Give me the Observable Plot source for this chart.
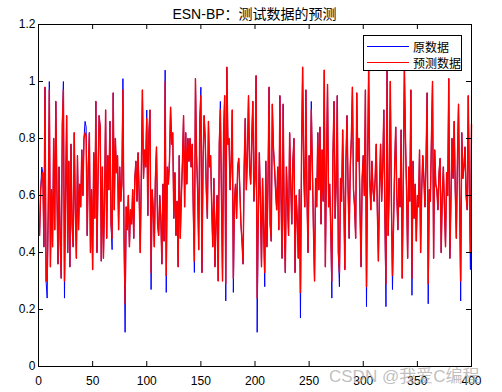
<!DOCTYPE html>
<html><head><meta charset="utf-8">
<script src="https://cdn.jsdelivr.net/npm/d3@7"></script>
<script src="https://cdn.jsdelivr.net/npm/@observablehq/plot@0.6"></script>
<style>
body{margin:0;background:#fff;}
#wrap{position:relative;width:502px;height:392px;font-family:"Liberation Sans",Arial,"Noto Sans CJK SC",sans-serif;}
#title{position:absolute;left:38px;width:433px;top:3px;text-align:center;font-size:14px;color:#000;}
#legend{position:absolute;left:363px;top:35px;width:97px;height:34px;border:1px solid #000;background:#fff;font-size:12px;font-family:"Noto Sans CJK SC",sans-serif;}
.row{position:absolute;left:3px;height:16px;display:flex;align-items:center;}
.sw{width:42px;height:0;border-top:1px solid;margin-right:4px;}
#wm{position:absolute;left:329px;top:362px;font-size:17px;color:rgba(170,170,170,0.75);font-family:"Liberation Sans","Noto Sans CJK SC",sans-serif;white-space:nowrap;}
</style></head><body>
<div id="wrap"><div id="chart"></div><div id="title"></div><div id="legend"></div><div id="wm"></div></div>
<script>
const titleText = "ESN-BP：测试数据的预测";
const seriesNames = ["原数据", "预测数据"];
const seriesColors = ["#0000ff", "#ff0000"];
const watermark = "CSDN @我爱C编程";
const xTicks = [0, 50, 100, 150, 200, 250, 300, 350, 400];
const yTicks = [0, 0.2, 0.4, 0.6, 0.8, 1, 1.2];

const original = [
0.46,0.62,0.70,0.68,0.42,0.98,0.30,0.24,0.55,1.00,
0.35,0.62,0.42,0.80,0.48,0.93,0.62,0.36,0.70,0.45,
0.31,0.85,1.00,0.24,0.60,0.88,0.40,0.72,0.35,0.78,
0.50,0.42,0.82,0.55,0.38,0.74,0.48,0.64,0.56,0.76,
0.60,0.80,0.86,0.84,0.46,0.70,0.82,0.40,0.62,0.34,
0.75,0.52,0.93,0.40,0.66,0.88,0.84,0.37,0.70,0.38,
0.58,0.90,0.45,0.74,0.62,0.86,0.50,0.41,0.96,0.55,
0.80,0.68,0.74,0.48,0.70,0.58,0.64,1.01,0.46,0.12,
0.56,0.48,0.60,0.42,0.55,0.50,0.62,0.45,0.66,0.72,
0.58,0.75,0.60,0.40,0.68,0.97,0.66,0.76,0.70,0.90,
0.53,0.82,0.90,0.27,0.62,0.55,0.42,0.66,0.77,0.50,
0.46,0.60,0.52,0.36,0.64,0.44,1.04,0.26,0.70,0.64,
0.72,0.91,0.78,0.82,0.52,0.68,0.46,0.58,0.35,0.74,
0.45,0.60,0.72,0.88,0.56,0.82,0.64,0.80,0.72,0.80,
0.70,0.78,0.55,0.33,1.01,0.74,0.62,0.41,0.86,0.98,
0.33,0.72,0.88,0.80,0.62,0.52,0.86,0.70,0.74,0.56,
0.42,0.66,0.35,0.50,0.60,0.30,0.78,0.93,0.60,0.30,
0.82,0.95,0.23,1.05,0.78,0.80,0.62,0.72,0.90,0.26,
0.58,0.64,0.52,0.70,0.73,0.62,0.50,0.44,0.36,0.70,
0.87,0.62,0.74,0.95,0.70,0.64,0.80,0.93,0.58,0.66,
1.02,0.12,0.52,0.75,0.58,0.35,0.66,0.48,0.28,0.72,
0.42,0.64,0.98,0.50,0.44,0.92,0.77,0.70,0.62,0.55,
0.70,0.48,0.95,0.60,0.38,0.92,0.52,0.33,0.70,0.58,
0.46,0.82,0.64,0.50,0.72,0.80,0.33,0.60,0.52,0.38,
0.62,0.17,0.75,1.05,0.68,0.56,0.97,0.60,0.40,0.74,
0.62,0.93,0.70,0.48,0.30,0.66,0.56,0.82,0.62,0.84,
0.50,0.76,0.58,1.04,0.35,0.70,0.99,0.56,0.64,0.48,
0.24,0.74,0.93,0.52,0.64,0.95,0.40,0.28,0.66,0.58,
0.83,0.60,0.34,0.72,0.88,0.62,0.45,0.70,0.80,0.98,
0.62,0.56,0.45,0.96,0.72,0.80,0.55,0.35,0.66,0.74,
0.60,0.97,0.21,0.70,1.05,0.66,0.55,0.72,0.62,0.58,
0.66,0.78,0.55,0.37,0.62,0.78,0.58,0.70,0.90,0.52,
0.21,1.04,0.46,0.62,1.00,0.58,0.27,0.50,0.70,0.84,
0.60,0.48,0.66,0.56,0.83,0.31,0.64,1.05,0.80,0.62,
0.38,0.70,0.58,0.97,0.25,0.72,0.52,0.64,0.44,0.60,
0.56,0.76,0.40,0.62,0.74,0.66,0.56,0.72,0.96,0.22,
0.62,0.58,0.80,1.00,0.38,0.76,0.64,0.62,0.55,0.68,
0.73,0.40,0.60,0.70,0.56,0.42,0.68,0.60,1.01,0.38,
0.58,0.80,0.66,0.86,0.62,0.45,0.72,0.92,0.60,0.23,
0.82,0.66,0.70,0.77,0.60,0.55,0.95,0.62,0.34,0.85
];

const predicted = [
0.46,0.62,0.66,0.68,0.42,0.98,0.30,0.30,0.55,0.97,
0.35,0.62,0.42,0.80,0.48,0.93,0.62,0.36,0.70,0.45,
0.31,0.85,0.97,0.30,0.60,0.88,0.40,0.72,0.35,0.78,
0.50,0.42,0.82,0.55,0.38,0.74,0.48,0.64,0.56,0.76,
0.60,0.80,0.82,0.81,0.46,0.70,0.82,0.40,0.62,0.34,
0.75,0.52,0.93,0.40,0.66,0.88,0.84,0.37,0.70,0.38,
0.58,0.90,0.45,0.74,0.62,0.86,0.50,0.45,0.96,0.55,
0.80,0.68,0.74,0.48,0.70,0.58,0.64,0.97,0.46,0.22,
0.56,0.48,0.60,0.42,0.55,0.50,0.62,0.45,0.66,0.72,
0.58,0.75,0.60,0.40,0.68,0.97,0.66,0.76,0.70,0.87,
0.53,0.82,0.90,0.33,0.62,0.55,0.42,0.66,0.77,0.50,
0.46,0.60,0.52,0.36,0.64,0.44,1.00,0.32,0.70,0.64,
0.72,0.91,0.78,0.82,0.52,0.68,0.46,0.58,0.35,0.74,
0.45,0.60,0.72,0.88,0.56,0.82,0.64,0.80,0.72,0.80,
0.70,0.78,0.55,0.37,1.01,0.74,0.62,0.41,0.86,0.95,
0.33,0.72,0.88,0.80,0.62,0.52,0.86,0.70,0.74,0.56,
0.42,0.66,0.35,0.50,0.60,0.30,0.78,0.90,0.60,0.30,
0.82,0.95,0.29,1.05,0.78,0.80,0.62,0.72,0.90,0.31,
0.58,0.64,0.52,0.70,0.73,0.62,0.50,0.44,0.36,0.70,
0.87,0.62,0.74,0.95,0.70,0.64,0.80,0.93,0.58,0.66,
1.02,0.24,0.52,0.75,0.58,0.35,0.66,0.48,0.33,0.72,
0.42,0.64,0.98,0.50,0.44,0.92,0.77,0.70,0.62,0.55,
0.70,0.48,0.95,0.60,0.38,0.92,0.52,0.33,0.70,0.58,
0.46,0.82,0.64,0.50,0.72,0.80,0.33,0.60,0.52,0.38,
0.62,0.26,0.75,1.05,0.68,0.56,0.97,0.60,0.40,0.74,
0.62,0.90,0.70,0.48,0.30,0.66,0.56,0.82,0.62,0.84,
0.50,0.76,0.58,1.04,0.35,0.70,0.99,0.56,0.64,0.48,
0.30,0.74,0.93,0.52,0.64,0.95,0.40,0.33,0.66,0.58,
0.83,0.60,0.34,0.72,0.88,0.62,0.45,0.70,0.80,0.98,
0.62,0.56,0.45,0.96,0.72,0.80,0.55,0.35,0.66,0.74,
0.60,0.97,0.28,0.70,1.05,0.66,0.55,0.72,0.62,0.58,
0.66,0.78,0.55,0.37,0.62,0.78,0.58,0.70,0.90,0.52,
0.29,1.04,0.46,0.62,1.00,0.58,0.32,0.50,0.70,0.84,
0.60,0.48,0.66,0.56,0.83,0.31,0.64,1.05,0.80,0.62,
0.38,0.70,0.58,0.97,0.31,0.72,0.52,0.64,0.44,0.60,
0.56,0.76,0.40,0.62,0.74,0.66,0.56,0.72,0.96,0.29,
0.62,0.58,0.80,1.00,0.38,0.76,0.64,0.62,0.55,0.68,
0.73,0.40,0.60,0.70,0.56,0.42,0.68,0.60,1.01,0.38,
0.58,0.80,0.66,0.86,0.62,0.45,0.72,0.92,0.60,0.30,
0.82,0.66,0.70,0.77,0.60,0.55,0.95,0.62,0.40,0.85
];

const W = 502, H = 392, mT = 24, mB = 26, mL = 38, mR = 31;
const innerW = W - mL - mR, innerH = H - mT - mB;
const tick = 5;

const chart = Plot.plot({
  width: W, height: H,
  marginTop: mT, marginBottom: mB, marginLeft: mL, marginRight: mR,
  x: {domain: [0, 400]},
  y: {domain: [0, 1.2]},
  style: {fontFamily: '"Liberation Sans", Arial, sans-serif', fontSize: "12px", color: "#000", background: "#fff"},
  marks: [
    Plot.line(original, {x: (d, i) => i + 1, y: d => d, stroke: seriesColors[0], strokeWidth: 1}),
    Plot.line(predicted, {x: (d, i) => i + 1, y: d => d, stroke: seriesColors[1], strokeWidth: 1.4}),
    Plot.tickX(xTicks, {x: d => d, insetTop: innerH - tick, stroke: "#000"}),
    Plot.tickX(xTicks, {x: d => d, insetBottom: innerH - tick, stroke: "#000"}),
    Plot.tickY(yTicks, {y: d => d, insetRight: innerW - tick, stroke: "#000"}),
    Plot.tickY(yTicks, {y: d => d, insetLeft: innerW - tick, stroke: "#000"}),
    Plot.axisX(xTicks, {tickSize: 0, tickPadding: 10, label: null, tickFormat: d => String(d)}),
    Plot.axisY(yTicks, {tickSize: 0, tickPadding: 3, label: null, tickFormat: d => String(d)}),
    Plot.frame({stroke: "#000"})
  ]
});
document.getElementById("chart").appendChild(chart);
document.getElementById("title").textContent = titleText;
const leg = document.getElementById("legend");
seriesNames.forEach((n, i) => {
  const r = document.createElement("div");
  r.className = "row";
  r.style.top = (2 + i * 16) + "px";
  const s = document.createElement("div");
  s.className = "sw";
  s.style.borderColor = seriesColors[i];
  const t = document.createElement("span");
  t.textContent = n;
  r.appendChild(s); r.appendChild(t);
  leg.appendChild(r);
});
document.getElementById("wm").textContent = watermark;
</script>
</body></html>
